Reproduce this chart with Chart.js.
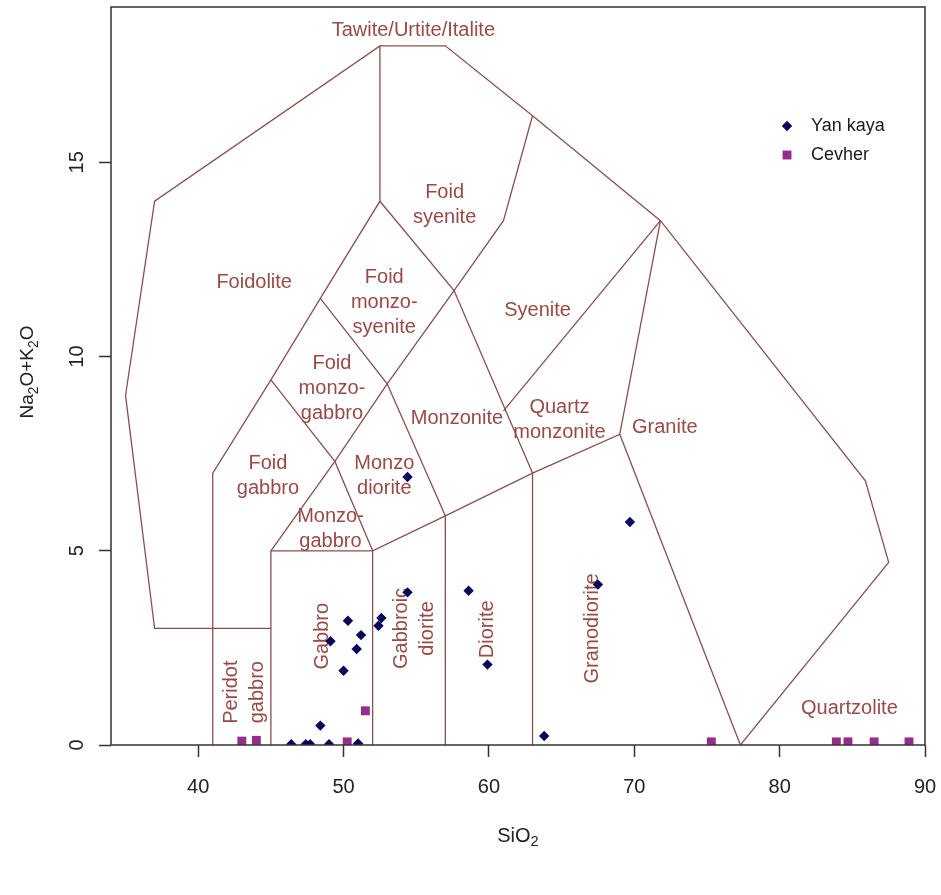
<!DOCTYPE html>
<html>
<head>
<meta charset="utf-8">
<script src="https://cdn.jsdelivr.net/npm/chart.js@4.4.1/dist/chart.umd.min.js"></script>
<style>
  html, body { margin: 0; padding: 0; background: #fff; }
  #wrap { width: 941px; height: 895px; }
</style>
</head>
<body>
<div id="wrap"><canvas id="tasChart" width="941" height="895"></canvas></div>
<script>
const xTicks = [40, 50, 60, 70, 80, 90];
const yTicks = [0, 5, 10, 15];

// samples, SiO2 vs Na2O+K2O
const yanKayaSiO2 = [54.4, 69.7, 67.5, 54.4, 58.6, 50.3, 52.6, 52.4, 51.2, 49.1, 50.9, 50.0, 59.9, 48.4, 63.8, 46.4, 47.4, 47.7, 49.0, 51.0];
const yanKayaAlk  = [6.90, 5.74, 4.13, 3.93, 3.97, 3.20, 3.27, 3.07, 2.83, 2.67, 2.47, 1.91, 2.07, 0.50, 0.23, 0.02, 0.02, 0.02, 0.02, 0.04];
const cevherSiO2 = [43.0, 44.0, 50.25, 51.5, 75.3, 83.9, 84.7, 86.5, 88.9];
const cevherAlk  = [0.10, 0.12, 0.08, 0.88, 0.08, 0.08, 0.08, 0.08, 0.08];

// field boundaries (Middlemost 1994, plutonic)
const outerLine  = [[45, 3], [37, 3], [35, 9], [37, 14], [52.5, 18], [57, 18], [63, 16.2], [71.8, 13.5], [85.9, 6.8], [87.5, 4.7], [77.3, 0]];
const line41     = [[41, 0], [41, 7], [45, 9.4], [48.4, 11.5], [52.5, 14], [52.5, 18]];
const line45     = [[45, 0], [45, 5], [52, 5], [57, 5.9], [63, 7], [69, 8], [71.8, 13.5]];
const graniteLow = [[69, 8], [77.3, 0]];
const line52     = [[52, 0], [52, 5]];
const line57     = [[57, 0], [57, 5.9]];
const line63     = [[63, 0], [63, 7]];
const foidLine   = [[45, 5], [49.4, 7.3], [53, 9.3], [57.6, 11.7], [61, 13.5], [63, 16.2]];
const monzoLineA = [[45, 9.4], [49.4, 7.3], [52, 5]];
const monzoLineB = [[48.4, 11.5], [53, 9.3], [57, 5.9]];
const monzoLineC = [[52.5, 14], [57.6, 11.7], [63, 7]];
const syeniteLow = [[61, 8.6], [71.8, 13.5]];
const boundaries = [outerLine, line41, line45, graniteLow, line52, line57, line63, foidLine, monzoLineA, monzoLineB, monzoLineC, syeniteLow];

// field names
const fieldNames = ['Tawite/Urtite/Italite', 'Foid\nsyenite', 'Foidolite', 'Foid\nmonzo-\nsyenite', 'Syenite', 'Foid\nmonzo-\ngabbro',
  'Monzonite', 'Quartz\nmonzonite', 'Granite', 'Foid\ngabbro', 'Monzo\ndiorite', 'Monzo-\ngabbro', 'Quartzolite'];
const fieldSiO2 = [54.8, 56.95, 43.85, 52.8, 63.35, 49.2, 57.8, 64.85, 72.1, 44.8, 52.8, 49.1, 84.8];
const fieldAlk  = [18.4, 13.9, 11.9, 11.4, 11.18, 9.18, 8.4, 8.37, 8.17, 6.93, 6.93, 5.57, 0.95];
// names written sideways
const sideNames = ['Peridot\ngabbro', 'Gabbro', 'Gabbroic\ndiorite', 'Diorite', 'Granodiorite'];
const sideSiO2 = [43.2, 48.55, 54.9, 59.9, 67.1];
const sideAlk  = [1.36, 2.8, 3.0, 2.98, 3.0];

const fontFamily = '"Liberation Sans", Arial, sans-serif';
const lineColor = 'rgb(135,80,80)';
const textColor = 'rgb(152,74,70)';
const yanColor = '#07075c';
const cevColor = '#962c8e';

const datasets = [
    {
        label: 'Yan kaya',
        data: yanKayaSiO2.map((x, i) => ({x: x, y: yanKayaAlk[i]})),
        pointStyle: 'rectRot',
        pointRadius: 5.2,
        backgroundColor: yanColor,
        borderColor: yanColor,
        borderWidth: 0,
        order: 0,
        clip: 0
    },
    {
        label: 'Cevher',
        data: cevherSiO2.map((x, i) => ({x: x, y: cevherAlk[i]})),
        pointStyle: 'rect',
        pointRadius: 6.3,
        backgroundColor: cevColor,
        borderColor: cevColor,
        borderWidth: 0,
        order: 0,
        clip: 0
    }
];
boundaries.forEach(b => {
    datasets.push({
        label: '',
        data: b.map(p => ({x: p[0], y: p[1]})),
        showLine: true,
        pointRadius: 0,
        borderColor: lineColor,
        borderWidth: 1.3,
        fill: false,
        order: 1,
        clip: 0
    });
});

function drawLines(ctx, lines, cx, cy, step) {
    lines.forEach((ln, j) => ctx.fillText(ln, cx, cy + (j - (lines.length - 1) / 2) * step));
}

// text made of pieces, some of them subscripts; centred on 0,0
function drawSubText(ctx, parts, size) {
    let total = 0;
    parts.forEach(p => {
        ctx.font = (p[1] ? size * 0.73 : size) + 'px ' + fontFamily;
        total += ctx.measureText(p[0]).width;
    });
    let px = -total / 2;
    ctx.textAlign = 'left';
    parts.forEach(p => {
        ctx.font = (p[1] ? size * 0.73 : size) + 'px ' + fontFamily;
        ctx.fillText(p[0], px, p[1] ? size * 0.3 : 0);
        px += ctx.measureText(p[0]).width;
    });
}

const tasDecor = {
    id: 'tasDecor',
    beforeDatasetsDraw(chart) {
        const {ctx, scales: {x, y}} = chart;
        ctx.save();
        ctx.fillStyle = textColor;
        ctx.font = '20px ' + fontFamily;
        ctx.textAlign = 'center';
        ctx.textBaseline = 'middle';
        fieldNames.forEach((name, i) => {
            drawLines(ctx, name.split('\n'), x.getPixelForValue(fieldSiO2[i]), y.getPixelForValue(fieldAlk[i]), 25);
        });
        sideNames.forEach((name, i) => {
            ctx.save();
            ctx.translate(x.getPixelForValue(sideSiO2[i]), y.getPixelForValue(sideAlk[i]));
            ctx.rotate(-Math.PI / 2);
            drawLines(ctx, name.split('\n'), 0, 0, 26);
            ctx.restore();
        });
        ctx.restore();
    },
    afterDatasetsDraw(chart) {
        const {ctx, chartArea: a} = chart;
        ctx.save();
        ctx.strokeStyle = '#333';
        ctx.lineWidth = 1.5;
        ctx.strokeRect(a.left, a.top, a.right - a.left, a.bottom - a.top);

        // legend
        const lx = a.right - 138, ly = a.top + 119;
        chart.data.datasets.slice(0, 2).forEach((ds, i) => {
            ctx.fillStyle = ds.backgroundColor;
            Chart.helpers.drawPoint(ctx, {pointStyle: ds.pointStyle, radius: ds.pointRadius, rotation: 0, borderWidth: 0}, lx, ly + i * 29);
            ctx.fillStyle = '#1a1a1a';
            ctx.font = '18px ' + fontFamily;
            ctx.textAlign = 'left';
            ctx.textBaseline = 'middle';
            ctx.fillText(ds.label, lx + 24, ly + i * 29);
        });

        // axis titles
        ctx.fillStyle = '#222';
        ctx.textBaseline = 'middle';
        ctx.save();
        ctx.translate((a.left + a.right) / 2, 836);
        drawSubText(ctx, [['SiO', false], ['2', true]], 20);
        ctx.restore();
        ctx.save();
        ctx.translate(28, (a.top + a.bottom) / 2 - 4);
        ctx.rotate(-Math.PI / 2);
        drawSubText(ctx, [['Na', false], ['2', true], ['O+K', false], ['2', true], ['O', false]], 19);
        ctx.restore();
        ctx.restore();
    }
};

const tickGrid = {
    drawOnChartArea: false,
    drawTicks: true,
    tickLength: 12,
    tickWidth: 1.5,
    tickColor: '#333'
};

function noPadding(s) {
    s.paddingTop = 0;
    s.paddingBottom = 0;
    s.paddingLeft = 0;
    s.paddingRight = 0;
}

new Chart(document.getElementById('tasChart'), {
    type: 'scatter',
    data: { datasets: datasets },
    options: {
        responsive: false,
        animation: false,
        events: [],
        layout: { padding: { left: 0, right: 16, top: 7, bottom: 0 } },
        plugins: {
            legend: { display: false },
            tooltip: { enabled: false }
        },
        scales: {
            x: {
                type: 'linear',
                min: 34,
                max: 90,
                afterBuildTicks: s => { s.ticks = xTicks.map(v => ({value: v})); },
                afterFit: s => { s.height = 150; noPadding(s); },
                grid: tickGrid,
                border: { display: false },
                ticks: {
                    font: { family: fontFamily, size: 20 },
                    color: '#222',
                    padding: 18,
                    minRotation: 0,
                    maxRotation: 0
                }
            },
            y: {
                type: 'linear',
                min: 0,
                max: 19,
                afterBuildTicks: s => { s.ticks = yTicks.map(v => ({value: v})); },
                afterFit: s => { s.width = 111; noPadding(s); },
                grid: tickGrid,
                border: { display: false },
                ticks: {
                    font: { family: fontFamily, size: 20 },
                    color: '#222',
                    padding: 10,
                    minRotation: 90,
                    maxRotation: 90,
                    crossAlign: 'center'
                }
            }
        }
    },
    plugins: [tasDecor]
});
</script>
</body>
</html>
